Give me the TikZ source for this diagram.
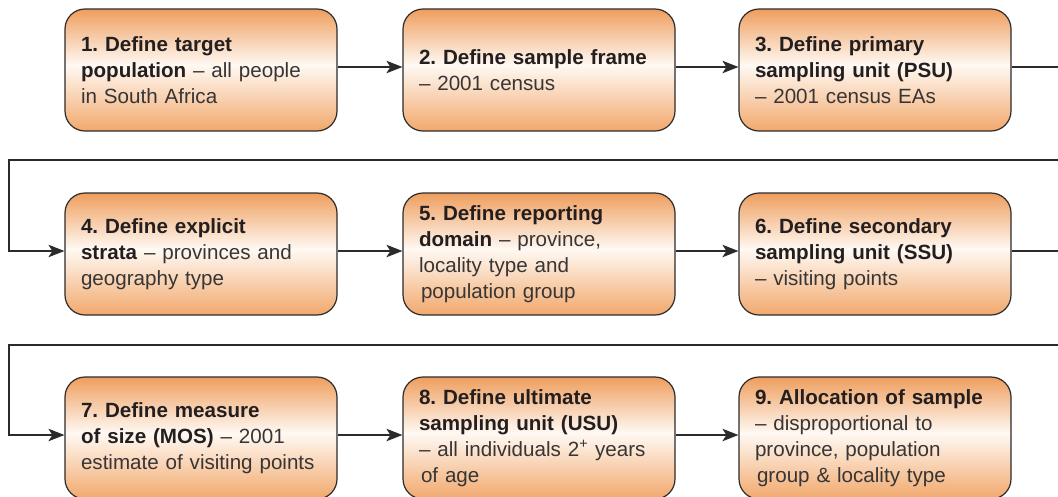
\documentclass[tikz,border=0pt]{standalone}
\usepackage{fontspec}
\setmainfont{Liberation Sans}
\usetikzlibrary{arrows.meta}

\definecolor{boxtop}{RGB}{238,158,94}
\definecolor{boxmid}{RGB}{255,249,243}
\definecolor{boxbot}{RGB}{241,168,108}
\definecolor{edge}{RGB}{45,42,42}
\definecolor{headtext}{RGB}{35,31,32}
\definecolor{bodytext}{RGB}{55,53,53}

% light band slightly above the middle of each box
\pgfdeclareverticalshading{stepfill}{100bp}{%
  color(0bp)=(boxbot); color(25bp)=(boxbot); color(52bp)=(boxmid);
  color(75bp)=(boxtop); color(100bp)=(boxtop)}

\tikzset{
  stepbox/.style={draw=edge, line width=1.2pt, rounded corners=20pt,
    shading=stepfill, minimum width=272pt, minimum height=122pt,
    text width=240pt, inner xsep=16pt, align=left, text=bodytext,
    font=\fontsize{20.6}{26}\selectfont},
  link/.style={draw=edge, line width=1.1pt},
  flow/.style={link, -{Stealth[length=16pt,width=12.5pt,inset=4pt]}},
  up/.style={yshift=3pt},
}
\newcommand{\hd}[1]{\textcolor{headtext}{\textbf{#1}}}

\begin{document}
\frenchspacing
\begin{tikzpicture}[x=1pt,y=-1pt]
\useasboundingbox (0,0) rectangle (1058,496);

% row 1
\node[stepbox] (s1) at (201,70) {\hd{1. Define target}\\\hd{population} -- all people\\in South Africa};
\node[stepbox] (s2) at (539,70) {\hd{2. Define sample frame}\\-- 2001 census};
\node[stepbox] (s3) at (875,70) {\hd{3. Define primary}\\\hd{sampling unit (PSU)}\\-- 2001 census EAs};

% row 2
\node[stepbox] (s4) at (201,254) {\hd{4. Define explicit}\\\hd{strata} -- provinces and\\geography type};
\node[stepbox] (s5) at (539,254) {\hd{5. Define reporting}\\\hd{domain} -- province,\\locality type and\\\hspace*{2pt}population group};
\node[stepbox] (s6) at (875,254) {\hd{6. Define secondary}\\\hd{sampling unit (SSU)}\\-- visiting points};

% row 3 (runs past the lower edge of the page)
\node[stepbox] (s7) at (201,438) {\hd{7. Define measure}\\\hd{of size (MOS)} -- 2001\\estimate of visiting points};
\node[stepbox] (s8) at (539,438) {\hd{8. Define ultimate}\\\hd{sampling unit (USU)}\\-- all individuals 2\textsuperscript{+} years\\\hspace*{2pt}of age};
\node[stepbox] (s9) at (875,438) {\hd{9. Allocation of sample}\\-- disproportional to\\province, population\\\hspace*{2pt}group \& locality type};

% run-outs at the right edge and the returns along the left side
\coordinate (o1) at (1058,67);
\coordinate (o2) at (1058,251);
\coordinate (r1) at (1058,160);
\coordinate (l1) at (9,160);
\coordinate (r2) at (1058,345);
\coordinate (l2) at (9,345);

\draw[flow] ([up]s1.east) -- ([up]s2.west);
\draw[flow] ([up]s2.east) -- ([up]s3.west);
\draw[link] ([up]s3.east) -- (o1);
\draw[flow] (r1) -- (l1) |- ([up]s4.west);
\draw[flow] ([up]s4.east) -- ([up]s5.west);
\draw[flow] ([up]s5.east) -- ([up]s6.west);
\draw[link] ([up]s6.east) -- (o2);
\draw[flow] (r2) -- (l2) |- ([up]s7.west);
\draw[flow] ([up]s7.east) -- ([up]s8.west);
\draw[flow] ([up]s8.east) -- ([up]s9.west);
\end{tikzpicture}
\end{document}
